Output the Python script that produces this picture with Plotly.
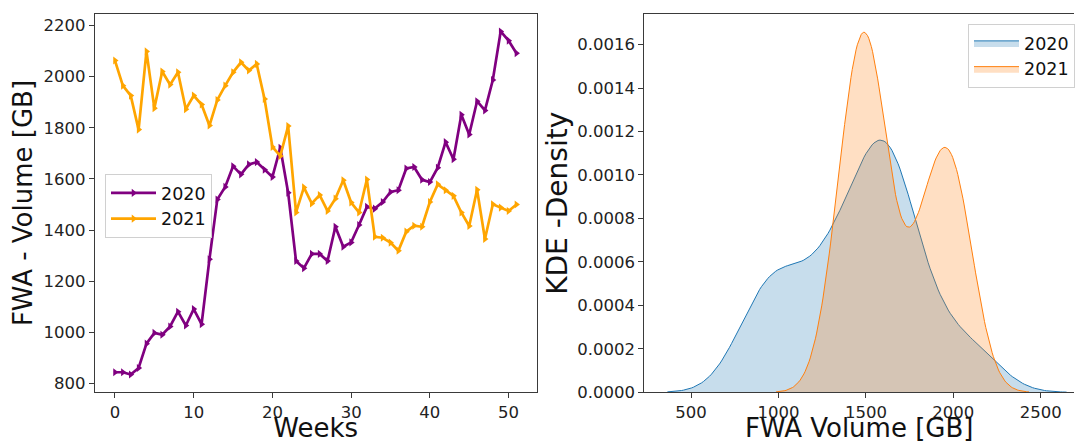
import numpy as np
import plotly.graph_objects as go

# Weekly FWA volume [GB]
weeks = list(range(52))
vol_2020 = [844, 844, 835, 861, 956, 998, 991, 1023, 1081, 1027,
            1091, 1032, 1286, 1520, 1569, 1650, 1618, 1657, 1666, 1636,
            1608, 1722, 1546, 1279, 1251, 1307, 1307, 1279, 1413, 1335,
            1352, 1420, 1491, 1484, 1510, 1549, 1556, 1641, 1647, 1597,
            1588, 1644, 1744, 1677, 1851, 1774, 1904, 1868, 1987, 2177,
            2141, 2092]
vol_2021 = [2063, 1965, 1926, 1793, 2099, 1877, 2020, 1969, 2017, 1873,
            1926, 1891, 1809, 1909, 1965, 2017, 2056, 2024, 2050, 1913,
            1725, 1690, 1807, 1469, 1567, 1504, 1537, 1475, 1523, 1595,
            1508, 1469, 1598, 1374, 1370, 1351, 1319, 1394, 1417, 1413,
            1510, 1579, 1556, 1534, 1469, 1416, 1558, 1365, 1501, 1488,
            1475, 1500]

years = ['2020', '2021']
line_colors = ['purple', 'orange']
kde_colors = ['#1f77b4', '#ff7f0e']
kde_fills = ['rgba(31,119,180,0.25)', 'rgba(255,127,14,0.25)']

FONT = 'DejaVu Sans'
AX = '#3a3a3a'


def gaussian_kde(values, gridsize=200, cut=3):
    """Scott-bandwidth gaussian KDE, same defaults as seaborn kdeplot."""
    v = np.asarray(values, dtype=float)
    bw = v.std(ddof=1) * len(v) ** (-1 / 5)
    grid = np.linspace(v.min() - cut * bw, v.max() + cut * bw, gridsize)
    z = (grid[:, None] - v[None, :]) / bw
    dens = np.exp(-0.5 * z ** 2).sum(axis=1) / (len(v) * bw * np.sqrt(2 * np.pi))
    return grid, dens


fig = go.Figure()

# Left: weekly time series
for yr, vals, col in zip(years, [vol_2020, vol_2021], line_colors):
    fig.add_trace(go.Scatter(
        x=weeks, y=vals, mode='lines+markers', name=yr,
        line=dict(color=col, width=2.7),
        marker=dict(symbol='triangle-right', size=7, color=col),
        xaxis='x', yaxis='y', legend='legend'
    ))

# Right: KDE of the same weekly values
kde_max = 0
for yr, vals, col, fill in zip(years, [vol_2020, vol_2021], kde_colors, kde_fills):
    gx, gy = gaussian_kde(vals)
    kde_max = max(kde_max, gy.max())
    fig.add_trace(go.Scatter(
        x=gx, y=gy, mode='lines', name=yr,
        line=dict(color=col, width=1),
        fill='tozeroy', fillcolor=fill,
        xaxis='x2', yaxis='y2', legend='legend2'
    ))

axis_common = dict(
    showline=True, linecolor=AX, linewidth=1,
    ticks='outside', ticklen=5, tickcolor=AX, tickwidth=1,
    showgrid=False, zeroline=False, automargin=False,
    tickfont=dict(family=FONT, size=16.5, color='#222'),
)

fig.update_layout(
    width=1075, height=443,
    margin=dict(l=0, r=0, t=0, b=0),
    paper_bgcolor='white', plot_bgcolor='white',
    font=dict(family=FONT, color='#222'),
    showlegend=True,
    xaxis=dict(
        domain=[95 / 1075, 537 / 1075], range=[-2.55, 53.55],
        tickvals=[0, 10, 20, 30, 40, 50], mirror=True,
        title=dict(text='Weeks', font=dict(family=FONT, size=26, color='#111'), standoff=6),
        anchor='y', **axis_common
    ),
    yaxis=dict(
        domain=[(443 - 391.7) / 443, (443 - 14.3) / 443], range=[768, 2244],
        tickvals=[800, 1000, 1200, 1400, 1600, 1800, 2000, 2200], mirror=True,
        title=dict(text='FWA - Volume [GB]', font=dict(family=FONT, size=26, color='#111'), standoff=3),
        anchor='x', **axis_common
    ),
    xaxis2=dict(
        domain=[645 / 1075, 1.0], range=[233, 2690],
        tickvals=[500, 1000, 1500, 2000, 2500], mirror=True,
        title=dict(text='FWA Volume [GB]', font=dict(family=FONT, size=26, color='#111'), standoff=6),
        anchor='y2', **axis_common
    ),
    yaxis2=dict(
        domain=[(443 - 392.3) / 443, (443 - 14.3) / 443], range=[0, kde_max * 1.05],
        tickvals=[0, 0.0002, 0.0004, 0.0006, 0.0008, 0.0010, 0.0012, 0.0014, 0.0016],
        tickformat='.4f',
        title=dict(text='KDE -Density', font=dict(family=FONT, size=28, color='#111'), standoff=1),
        anchor='x2', **axis_common
    ),
    legend=dict(
        x=105 / 1075, y=(443 - 174) / 443, xanchor='left', yanchor='top',
        bgcolor='rgba(255,255,255,0.8)', bordercolor='#d0d0d0', borderwidth=1,
        font=dict(family=FONT, size=17.5, color='#111'), itemwidth=45,
    ),
    legend2=dict(
        x=969 / 1075, y=(443 - 24) / 443, xanchor='left', yanchor='top',
        bgcolor='rgba(255,255,255,0.8)', bordercolor='#d0d0d0', borderwidth=1,
        font=dict(family=FONT, size=17.5, color='#111'), itemwidth=45,
    ),
)

# drop the default 8px page margin so the figure sits at the window's corner
fig.write_html('out.html', config={'displayModeBar': False},
               post_script="document.body.style.margin='0';")
